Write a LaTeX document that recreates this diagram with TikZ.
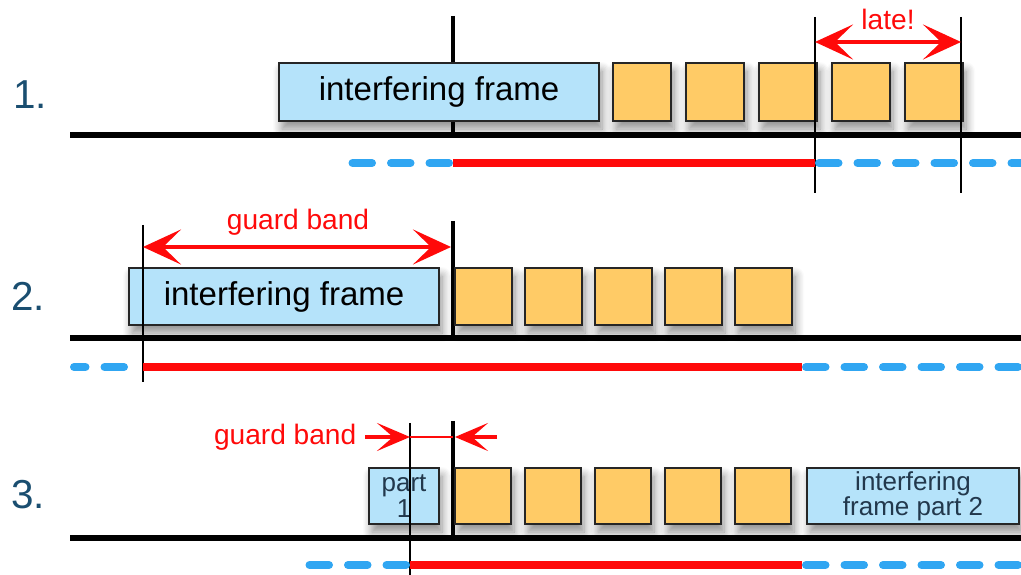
\documentclass[tikz,border=0pt]{standalone}
\usepackage{fontspec}
\setmainfont{Liberation Sans}
\usetikzlibrary{arrows.meta,shadows.blur}
\definecolor{frameblue}{HTML}{B5E3FA}
\definecolor{slotorange}{HTML}{FFCB66}
\definecolor{rownum}{HTML}{1A4E70}
\definecolor{gbred}{HTML}{FF0A0A}
\definecolor{idleblue}{HTML}{30A6F2}
\definecolor{darktext}{HTML}{22384C}
\tikzset{
  boxshadow/.style={blur shadow={shadow xshift=.3mm, shadow yshift=-.8mm,
    shadow blur radius=.9mm, shadow blur steps=8, shadow opacity=45}},
  framebox/.style={draw=black!85, line width=.6pt, fill=frameblue, boxshadow,
    anchor=north west, inner sep=0pt, align=center},
  slotbox/.style={draw=black!85, line width=.6pt, fill=slotorange, boxshadow,
    anchor=north west, inner sep=0pt, minimum width=#1, minimum height=#1},
  slotbox/.default=5.8mm,
  wireline/.style={line width=.6mm},
  gateline/.style={line width=1.4pt},
  markline/.style={line width=.5pt},
  busyline/.style={gbred, line width=.8mm},
  idleline/.style={idleblue, line width=.8mm, line cap=round, dash pattern=on 1.95mm off 1.9mm},
  gaparrow/.style={gbred, line width=1.1pt,
    {Stealth[length=3.8mm,width=3.5mm,inset=1.8mm]}-{Stealth[length=3.8mm,width=3.5mm,inset=1.8mm]}},
  squeeze/.style={gbred, line width=1.1pt, -{Stealth[length=3.3mm,width=2.8mm,inset=1.6mm]}},
  gblabel/.style={text=gbred, font=\fontsize{8}{9}\selectfont, inner sep=0pt},
  rowlabel/.style={text=rownum, font=\fontsize{11.5}{13}\selectfont, inner sep=0pt}
}

\begin{document}
\begin{tikzpicture}[x=.1mm, y=-.1mm]
  \useasboundingbox (0,0) rectangle (1021,575);

  % 1. frame sent too late
  \begin{scope}[shift={(0,135)}]
    \node[rowlabel] (n1) at (30,-40) {1.};
    \draw[gateline] (453,-119) -- (453,2);
    \draw[wireline] (70,0) -- (1021,0);
    \node[framebox, minimum width=32mm, minimum height=5.8mm, font=\fontsize{9.4}{11}\selectfont]
      (f1) at (278,-73) {interfering frame};
    \foreach \i in {0,...,4}
      \node[slotbox] (a\i) at (612+73*\i,-73) {};
    \coordinate (m1t) at (815,-118); \coordinate (m1b) at (815,58);
    \coordinate (m2t) at (961,-118); \coordinate (m2b) at (961,58);
    \coordinate (m1a) at (815,-93); \coordinate (m2a) at (961,-93);
    \draw[markline] (m1t) -- (m1b);
    \draw[markline] (m2t) -- (m2b);
    \draw[idleline] (449,28) -- (345,28);
    \draw[idleline] (819,28) -- (1040,28);
    \draw[busyline] (453,28) -- (815,28);
    \draw[gaparrow] (m1a) -- (m2a);
    \node[gblabel] (late) at (888,-116) {late!};
  \end{scope}

  % 2. long guard band
  \begin{scope}[shift={(0,338)}]
    \node[rowlabel] (n2) at (28,-42) {2.};
    \draw[gateline] (453,-117) -- (453,0);
    \draw[wireline] (70,0) -- (1021,0);
    \node[framebox, minimum width=31mm, minimum height=5.7mm, font=\fontsize{9.4}{11}\selectfont]
      (f2) at (128,-71) {interfering frame};
    \foreach \i in {0,...,4}
      \node[slotbox=5.7mm] (b\i) at (454+70*\i,-71) {};
    \coordinate (g2t) at (143,-113); \coordinate (g2b) at (143,44);
    \coordinate (g2a) at (143,-91); \coordinate (g2c) at (451,-91);
    \draw[markline] (g2t) -- (g2b);
    \draw[idleline] (124,29) -- (74,29);
    \draw[idleline] (806,29) -- (1040,29);
    \draw[busyline] (143,29) -- (802,29);
    \draw[gaparrow] (g2a) -- (g2c);
    \node[gblabel] (gb2) at (298,-116) {guard band};
  \end{scope}

  % 3. preempted frame, short guard band
  \begin{scope}[shift={(0,538)}]
    \node[rowlabel] (n3) at (28,-43) {3.};
    \draw[gateline] (453,-117) -- (453,0);
    \draw[wireline] (70,0) -- (1021,0);
    \node[framebox, minimum width=7mm, minimum height=5.6mm, text=darktext,
      font=\fontsize{7.4}{7.6}\selectfont] (p1) at (368,-71) {part\\1};
    \foreach \i in {0,...,4}
      \node[slotbox=5.6mm] (c\i) at (454+70*\i,-71) {};
    \node[framebox, minimum width=21.2mm, minimum height=5.6mm, text=darktext,
      font=\fontsize{7.4}{7.2}\selectfont] (p2) at (806,-71) {interfering\\frame part 2};
    \coordinate (g3t) at (410,-115); \coordinate (g3b) at (410,42);
    \coordinate (g3a) at (410,-101); \coordinate (g3c) at (453,-101);
    \coordinate (g3l) at (365,-101); \coordinate (g3r) at (497,-101);
    \draw[markline] (g3t) -- (g3b);
    \draw[idleline] (406,27) -- (300,27);
    \draw[idleline] (806,27) -- (1040,27);
    \draw[busyline] (410,27) -- (802,27);
    \draw[gbred, line width=.7pt] (g3a) -- (g3c);
    \draw[squeeze] (g3l) -- (g3a);
    \draw[squeeze] (g3r) -- ([xshift=.2mm]g3c);
    \node[gblabel, anchor=east] (gb3) at (357,-101) {guard band};
  \end{scope}
\end{tikzpicture}
\end{document}
